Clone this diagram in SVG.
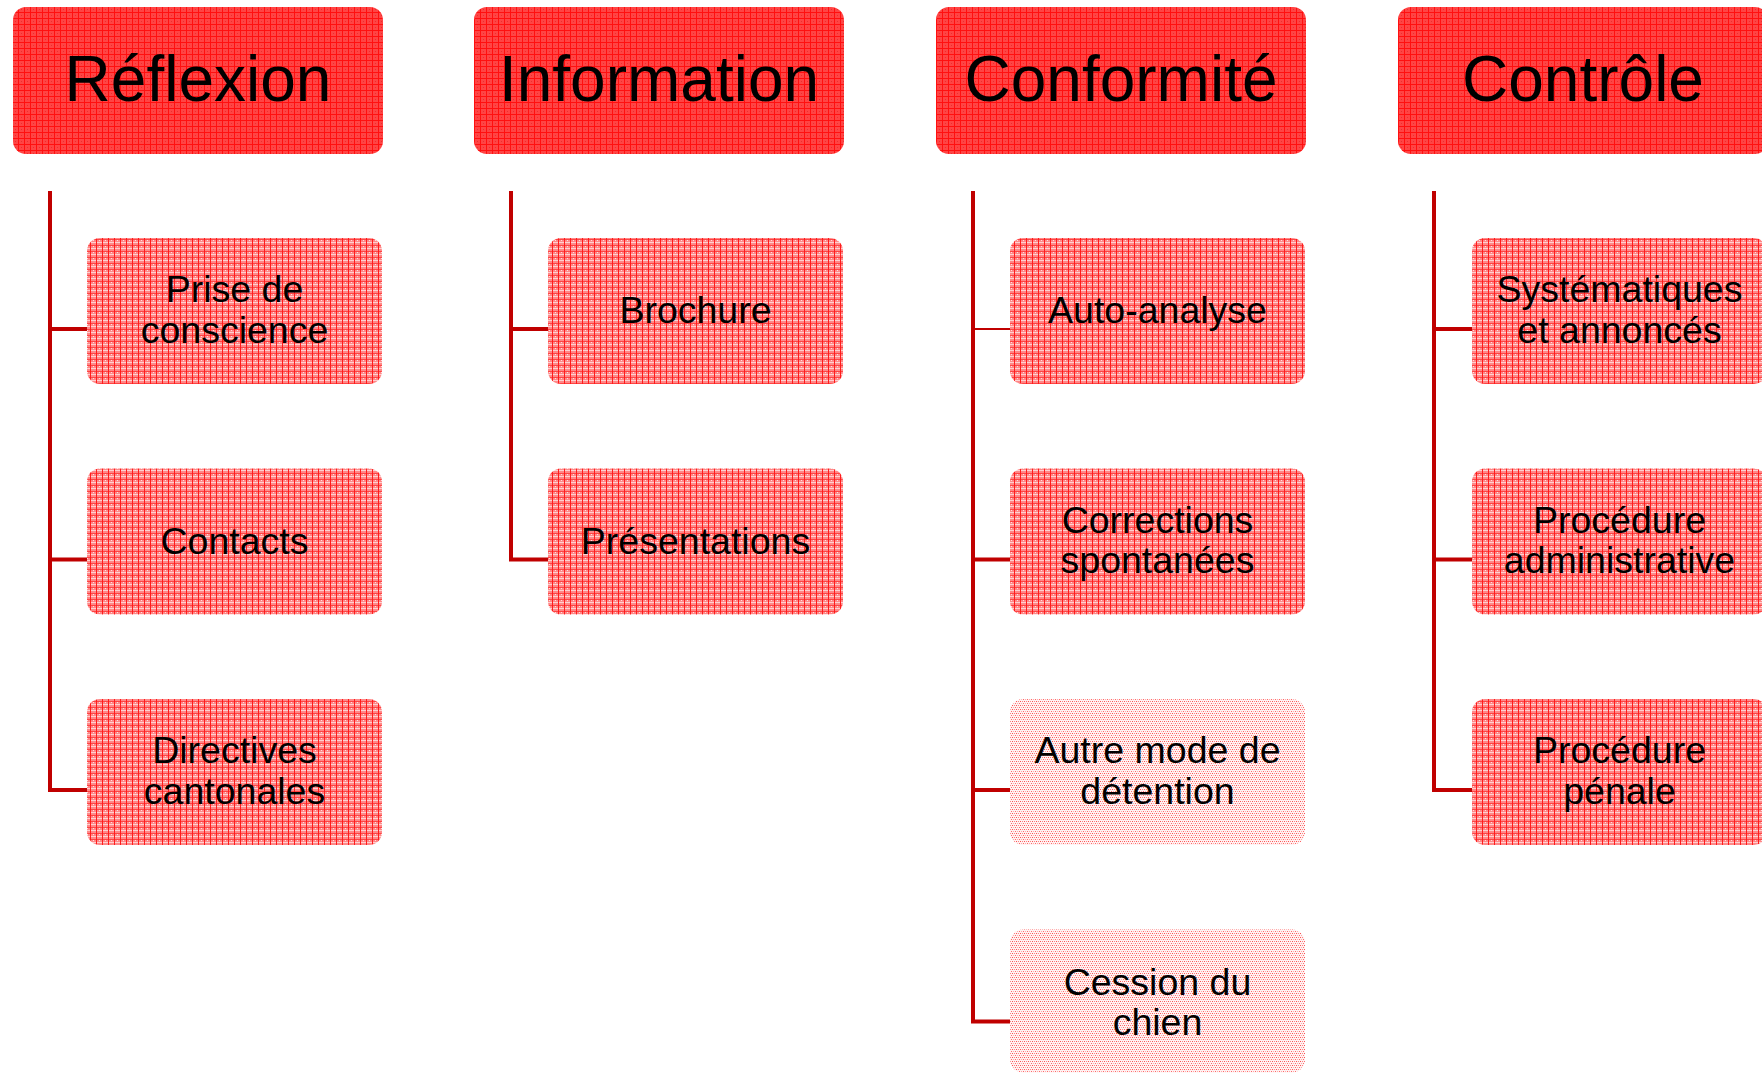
<svg xmlns="http://www.w3.org/2000/svg" width="1762" height="1073" viewBox="0 0 1762 1073">
<defs>
<pattern id="patTop" width="6" height="6" patternUnits="userSpaceOnUse">
<rect width="6" height="6" fill="#ff4444"/>
<rect width="6" height="1" fill="#ff1010"/>
<rect width="1" height="6" fill="#ff1010"/>
<rect x="3" y="3" width="1" height="1" fill="#e83030"/>
</pattern>
<pattern id="patMid" width="6" height="6" patternUnits="userSpaceOnUse">
<rect width="6" height="6" fill="#ff8888"/>
<rect y="2" width="6" height="1" fill="#ffd0d0"/>
<rect y="5" width="6" height="1" fill="#ff4444"/>
<rect width="1" height="6" fill="#ff1c1c"/>
<rect x="3" y="0" width="1" height="1" fill="#ffe0e0"/>
</pattern>
<pattern id="patLight" width="4" height="4" patternUnits="userSpaceOnUse">
<rect width="4" height="4" fill="#fff2f2"/>
<rect x="0" y="1" width="1" height="1" fill="#ff5050"/>
<rect x="2" y="1" width="1" height="1" fill="#ff8080"/>
<rect x="1" y="3" width="1" height="1" fill="#ffa8a8"/>
<rect x="3" y="3" width="1" height="1" fill="#ff6a6a"/>
</pattern>
</defs>
<style>
.top{fill:url(#patTop);}
.mid{fill:url(#patMid);}
.light{fill:url(#patLight);}
.ht{font-family:"Liberation Sans",Arial,sans-serif;font-size:64px;fill:#000;text-anchor:middle;}
.ct{font-family:"Liberation Sans",Arial,sans-serif;font-size:37.5px;fill:#000;text-anchor:middle;}
.conn{fill:none;stroke:#c00000;stroke-width:4;stroke-linejoin:miter;stroke-linecap:butt;}
.thin{fill:none;stroke:#c00000;stroke-width:2;}
</style>

<g id="connectors">
<path class="conn" d="M50,191 V790 H87 M50,329 H87 M50,559.5 H87"/>
<path class="conn" d="M511,191 V559.5 H548 M511,329 H548"/>
<path class="conn" d="M973,191 V1021.5 H1010 M973,559.5 H1010 M973,790 H1010"/>
<path class="thin" d="M975,329 H1010"/>
<path class="conn" d="M1434,191 V790 H1472 M1434,329 H1472 M1434,559.5 H1472"/>
</g>

<g id="reflexion">
<rect class="top" x="13" y="7" width="370" height="147" rx="13"/>
<text class="ht" x="198" y="100.5">Réflexion</text>
</g>
<g id="information">
<rect class="top" x="474" y="7" width="370" height="147" rx="13"/>
<text class="ht" x="659" y="100.5">Information</text>
</g>
<g id="conformite">
<rect class="top" x="936" y="7" width="370" height="147" rx="13"/>
<text class="ht" x="1121" y="100.5">Conformité</text>
</g>
<g id="controle">
<rect class="top" x="1398" y="7" width="370" height="147" rx="13"/>
<text class="ht" x="1583" y="100.5">Contrôle</text>
</g>

<g id="prise-de-conscience">
<rect class="mid" x="87" y="238" width="295" height="146" rx="13"/>
<text class="ct" x="234.5" y="302">Prise de</text>
<text class="ct" x="234.5" y="342.5">conscience</text>
</g>
<g id="contacts">
<rect class="mid" x="87" y="468.5" width="295" height="146" rx="13"/>
<text class="ct" x="234.5" y="553.5">Contacts</text>
</g>
<g id="directives-cantonales">
<rect class="mid" x="87" y="699" width="295" height="146" rx="13"/>
<text class="ct" x="234.5" y="763">Directives</text>
<text class="ct" x="234.5" y="803.5">cantonales</text>
</g>

<g id="brochure">
<rect class="mid" x="548" y="238" width="295" height="146" rx="13"/>
<text class="ct" x="695.5" y="323">Brochure</text>
</g>
<g id="presentations">
<rect class="mid" x="548" y="468.5" width="295" height="146" rx="13"/>
<text class="ct" x="695.5" y="553.5">Présentations</text>
</g>

<g id="auto-analyse">
<rect class="mid" x="1010" y="238" width="295" height="146" rx="13"/>
<text class="ct" x="1157.5" y="323">Auto-analyse</text>
</g>
<g id="corrections-spontanees">
<rect class="mid" x="1010" y="468.5" width="295" height="146" rx="13"/>
<text class="ct" x="1157.5" y="532.5">Corrections</text>
<text class="ct" x="1157.5" y="573">spontanées</text>
</g>
<g id="autre-mode-de-detention">
<rect class="light" x="1010" y="699" width="295" height="146" rx="13"/>
<text class="ct" x="1157.5" y="763">Autre mode de</text>
<text class="ct" x="1157.5" y="803.5">détention</text>
</g>
<g id="cession-du-chien">
<rect class="light" x="1010" y="929.5" width="295" height="143" rx="13"/>
<text class="ct" x="1157.5" y="995">Cession du</text>
<text class="ct" x="1157.5" y="1034.5">chien</text>
</g>

<g id="systematiques-et-annonces">
<rect class="mid" x="1472" y="238" width="295" height="146" rx="13"/>
<text class="ct" x="1619.5" y="302">Systématiques</text>
<text class="ct" x="1619.5" y="342.5">et annoncés</text>
</g>
<g id="procedure-administrative">
<rect class="mid" x="1472" y="468.5" width="295" height="146" rx="13"/>
<text class="ct" x="1619.5" y="532.5">Procédure</text>
<text class="ct" x="1619.5" y="573">administrative</text>
</g>
<g id="procedure-penale">
<rect class="mid" x="1472" y="699" width="295" height="146" rx="13"/>
<text class="ct" x="1619.5" y="763">Procédure</text>
<text class="ct" x="1619.5" y="803.5">pénale</text>
</g>
</svg>
